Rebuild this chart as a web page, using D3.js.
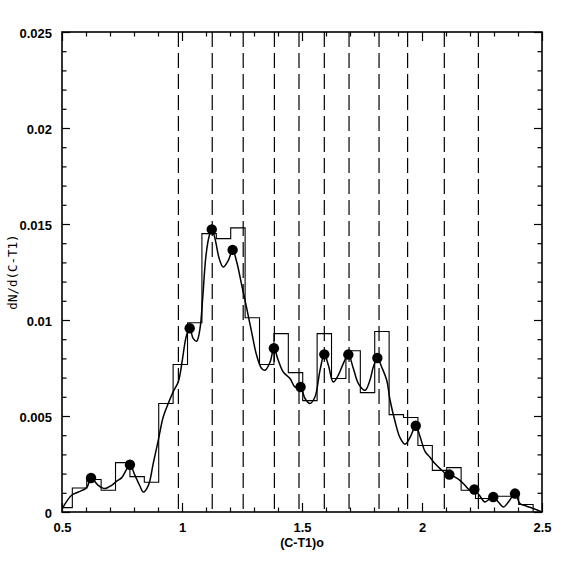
<!DOCTYPE html>
<html>
<head>
<meta charset="utf-8">
<script src="https://cdn.jsdelivr.net/npm/d3@7"></script>
<style>
  html, body { margin: 0; padding: 0; background: #fff; }
  svg { display: block; }
  .tick text { font-family: "Liberation Sans", Arial, sans-serif; font-weight: bold; font-size: 13px; fill: #000; }
</style>
</head>
<body>
<script>
// ---------- data ----------
const binStart = 0.483;
const binWidth = 0.06;
const binValues = [0.00023, 0.00125, 0.00169, 0.00113, 0.00257, 0.00184, 0.00155, 0.00565,
  0.00768, 0.00986, 0.0145, 0.01424, 0.0148, 0.01012, 0.00768, 0.00929, 0.00726, 0.0058,
  0.00929, 0.00695, 0.0084, 0.00622, 0.0094, 0.00507, 0.00492, 0.00346, 0.00217, 0.00231,
  0.00113, 0.0007, 0.00082, 0.00082, 0.00039];

const dividers = [0.985, 1.126, 1.255, 1.385, 1.4875, 1.593, 1.696, 1.821, 1.940, 2.093, 2.235];

const peakX = [0.621, 0.783, 1.032, 1.124, 1.211, 1.383, 1.494, 1.593, 1.693, 1.814, 1.974, 2.114, 2.218, 2.297, 2.3875];
const peakY = [0.00177, 0.00246, 0.00957, 0.01472, 0.01365, 0.00853, 0.00651, 0.00821, 0.0082, 0.00802, 0.00449, 0.00195, 0.00117, 0.00078, 0.00096];

const curveX = [0.501, 0.540, 0.568, 0.603, 0.621, 0.651, 0.679, 0.707, 0.728, 0.749, 0.783, 0.804, 0.825, 0.839, 0.860,
  0.880, 0.901, 0.922, 0.943, 0.964, 0.985, 1.0, 1.012, 1.020, 1.032, 1.047, 1.061, 1.075, 1.086, 1.100, 1.114, 1.124,
  1.1375, 1.155, 1.172, 1.193, 1.211, 1.228, 1.249, 1.270, 1.290, 1.311, 1.332, 1.346, 1.367, 1.383, 1.401, 1.422,
  1.450, 1.471, 1.494, 1.5125, 1.533, 1.554, 1.575, 1.593, 1.610, 1.630, 1.651, 1.672, 1.693, 1.714, 1.735, 1.7625,
  1.783, 1.797, 1.814, 1.832, 1.853, 1.867, 1.8875, 1.908, 1.929, 1.950, 1.974, 1.992, 2.0125, 2.033, 2.054, 2.075,
  2.096, 2.114, 2.1375, 2.158, 2.179, 2.200, 2.218, 2.239, 2.2625, 2.283, 2.297, 2.318, 2.339, 2.360, 2.3875, 2.408,
  2.436, 2.464, 2.499];
const curveY = [0.00018, 0.00087, 0.00104, 0.00127, 0.00176, 0.00139, 0.00122, 0.00139, 0.00161, 0.00179, 0.00243, 0.00191, 0.00134, 0.00104, 0.00139,
  0.00252, 0.00373, 0.00496, 0.00566, 0.00628, 0.00680, 0.00780, 0.00880, 0.00925, 0.00957, 0.00903, 0.00889, 0.00955, 0.01111, 0.01337, 0.01441, 0.01472,
  0.01424, 0.0132, 0.01276, 0.01311, 0.01365, 0.01302, 0.01181, 0.01059, 0.00938, 0.00816, 0.00747, 0.00738, 0.00781, 0.00853, 0.0079, 0.00729,
  0.00695, 0.00651, 0.00651, 0.00591, 0.00565, 0.00599, 0.00738, 0.00821, 0.00764, 0.00677, 0.00712, 0.00773, 0.0082, 0.00747, 0.00669, 0.00634,
  0.00686, 0.00755, 0.00802, 0.00755, 0.00686, 0.00582, 0.00473, 0.00388, 0.00353, 0.00388, 0.00449, 0.00392, 0.00316, 0.00285, 0.00252, 0.00226,
  0.00203, 0.00195, 0.00182, 0.00165, 0.00139, 0.00113, 0.00117, 0.00087, 0.00052, 0.0007, 0.00078, 0.00052, 0.00026, 0.00052, 0.00096, 0.00044,
  0.0003, 0.00018, 0.0];

const xMajor = [0.5, 1, 1.5, 2, 2.5];
const xMajorLabels = ["0.5", "1", "1.5", "2", "2.5"];
const yMajor = [0, 0.005, 0.01, 0.015, 0.02, 0.025];
const yMajorLabels = ["0", "0.005", "0.01", "0.015", "0.02", "0.025"];
const xTitle = "(C-T1)o";
const yTitle = "dN/d(C-T1)";

// ---------- layout ----------
const W = 574, H = 574;
const L = 62, R = 542, T = 32, B = 512;

const svg = d3.select("body").append("svg").attr("width", W).attr("height", H);
svg.append("rect").attr("width", W).attr("height", H).attr("fill", "#fff");

const x = d3.scaleLinear().domain([0.5, 2.5]).range([L, R]);
const y = d3.scaleLinear().domain([0, 0.025]).range([B, T]);

svg.append("clipPath").attr("id", "clip")
  .append("rect").attr("x", L).attr("y", T).attr("width", R - L).attr("height", B - T);

const plot = svg.append("g").attr("clip-path", "url(#clip)");

// dashed dividers
plot.selectAll("line.div").data(dividers).enter().append("line")
  .attr("x1", d => x(d)).attr("x2", d => x(d))
  .attr("y1", T).attr("y2", B)
  .attr("stroke", "#000").attr("stroke-width", 1.2)
  .attr("stroke-dasharray", "15,6");

// histogram
const histPts = [];
const nb = binValues.length;
histPts.push([binStart, 0]);
binValues.forEach((v, i) => {
  histPts.push([binStart + i * binWidth, v]);
  histPts.push([binStart + (i + 1) * binWidth, v]);
});
histPts.push([binStart + nb * binWidth, 0]);
plot.append("path")
  .attr("d", d3.line().x(d => x(d[0])).y(d => y(d[1]))(histPts))
  .attr("fill", "none").attr("stroke", "#000").attr("stroke-width", 1.1);

// smooth curve
const curvePts = curveX.map((d, i) => [d, curveY[i]]);
plot.append("path")
  .attr("d", d3.line().x(d => x(d[0])).y(d => y(d[1])).curve(d3.curveCatmullRom.alpha(0.5))(curvePts))
  .attr("fill", "none").attr("stroke", "#000").attr("stroke-width", 1.5);

// peak markers
svg.selectAll("circle.pk").data(peakX).enter().append("circle")
  .attr("cx", d => x(d)).attr("cy", (d, i) => y(peakY[i]))
  .attr("r", 5.2).attr("fill", "#000");

// ---------- axes ----------
const xMinor = d3.range(5, 26).map(d => d / 10).filter(v => !xMajor.some(m => Math.abs(m - v) < 1e-9));
const yMinor = d3.range(0, 26).map(d => d / 1000).filter(v => !yMajor.some(m => Math.abs(m - v) < 1e-9));

function styleAxis(g) {
  g.select(".domain").remove();
  g.selectAll(".tick line").attr("stroke", "#000").attr("stroke-width", 1.2);
}

svg.append("g").attr("transform", `translate(0,${B})`)
  .call(d3.axisBottom(x).tickValues(xMajor).tickSize(-9).tickPadding(11)
    .tickFormat((d, i) => xMajorLabels[i]))
  .call(styleAxis);
svg.append("g").attr("transform", `translate(0,${B})`)
  .call(d3.axisBottom(x).tickValues(xMinor).tickSize(-4.5).tickFormat(""))
  .call(styleAxis);
svg.append("g").attr("transform", `translate(0,${T})`)
  .call(d3.axisTop(x).tickValues(xMajor).tickSize(-9).tickFormat(""))
  .call(styleAxis);
svg.append("g").attr("transform", `translate(0,${T})`)
  .call(d3.axisTop(x).tickValues(xMinor).tickSize(-4.5).tickFormat(""))
  .call(styleAxis);

svg.append("g").attr("transform", `translate(${L},0)`)
  .call(d3.axisLeft(y).tickValues(yMajor).tickSize(-8).tickPadding(10)
    .tickFormat((d, i) => yMajorLabels[i]))
  .call(styleAxis)
  .call(g => g.selectAll(".tick text").attr("dy", "0.4em"));
svg.append("g").attr("transform", `translate(${L},0)`)
  .call(d3.axisLeft(y).tickValues(yMinor).tickSize(-4.5).tickFormat(""))
  .call(styleAxis);
svg.append("g").attr("transform", `translate(${R},0)`)
  .call(d3.axisRight(y).tickValues(yMajor).tickSize(-8).tickFormat(""))
  .call(styleAxis);
svg.append("g").attr("transform", `translate(${R},0)`)
  .call(d3.axisRight(y).tickValues(yMinor).tickSize(-4.5).tickFormat(""))
  .call(styleAxis);

// frame
svg.append("rect").attr("x", L).attr("y", T).attr("width", R - L).attr("height", B - T)
  .attr("fill", "none").attr("stroke", "#000").attr("stroke-width", 1.6);

// titles
svg.append("text").attr("x", (L + R) / 2).attr("y", 547).attr("text-anchor", "middle")
  .attr("font-family", "Liberation Sans, Arial, sans-serif").attr("font-size", 12.5).attr("font-weight", "bold")
  .text(xTitle);
svg.append("text").attr("transform", `translate(17,${(T + B) / 2}) rotate(-90)`)
  .attr("text-anchor", "middle")
  .attr("font-family", "DejaVu Sans Mono, Liberation Mono, monospace").attr("font-size", 12.5)
  .text(yTitle);
</script>
</body>
</html>
